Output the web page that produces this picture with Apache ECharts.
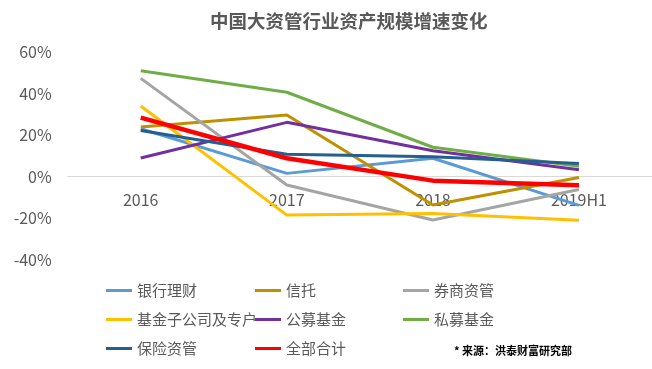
<!DOCTYPE html>
<html>
<head>
<meta charset="utf-8">
<script src="https://cdn.jsdelivr.net/npm/echarts@6/dist/echarts.min.js"></script>
<style>html,body{margin:0;padding:0;background:#fff;}#c{width:652px;height:369px;}</style>
</head>
<body>
<div id="c"></div>
<script>
var categories = ['2016', '2017', '2018', '2019H1'];
var seriesNames = ['银行理财', '信托', '券商资管', '基金子公司及专户', '公募基金', '私募基金', '保险资管', '全部合计'];
var bankWealth = [23.1, 1.6, 8.9, -13.8];
var trust = [24.0, 29.7, -13.6, -0.4];
var brokerage = [47.4, -4.0, -20.9, -6.2];
var fundSubsidiary = [34.1, -18.5, -17.7, -21.0];
var publicFund = [9.0, 26.2, 12.5, 3.4];
var privateFund = [51.1, 40.7, 14.2, 5.0];
var insurance = [22.3, 10.8, 9.6, 6.4];
var total = [28.5, 8.9, -1.9, -4.1];
var yTicks = [-40, -20, 0, 20, 40, 60];

var values = [bankWealth, trust, brokerage, fundSubsidiary, publicFund, privateFund, insurance, total];
var colors = ['#5B9BD5', '#BF9000', '#A5A5A5', '#FFC000', '#7030A0', '#70AD47', '#255E91', '#FF0000'];
var widths = [3, 3, 3, 3, 3, 3, 3, 4.5];
var FONT = '"Noto Sans CJK SC", "Noto Sans", sans-serif';

var GRID_TOP = 52.2, GRID_H = 207.5;
var yMin = yTicks[0], yMax = yTicks[yTicks.length - 1];
var zeroOffset = -GRID_H * (0 - yMin) / (yMax - yMin);

var series = seriesNames.map(function (n, i) {
  return {
    name: n, type: 'line', data: values[i], symbol: 'none', smooth: false,
    color: colors[i],
    lineStyle: { width: widths[i], color: colors[i] },
    z: i === 7 ? 5 : 2
  };
});

function legendCol(left, names) {
  return {
    orient: 'vertical', left: left, top: 276, itemGap: 0,
    itemWidth: 26, itemHeight: 3, itemTextGap: 1, icon: 'rect',
    padding: 0,
    textStyle: { fontSize: 15, lineHeight: 29, color: '#595959', fontFamily: FONT },
    data: names
  };
}

var chart = echarts.init(document.getElementById('c'), null, { renderer: 'canvas' });
chart.setOption({
  animation: false,
  backgroundColor: '#fff',
  textStyle: { fontFamily: FONT },
  title: {
    text: '中国大资管行业资产规模增速变化', left: 205, top: 7,
    textStyle: { fontSize: 18.5, fontWeight: 'bold', color: '#595959', fontFamily: FONT }
  },
  grid: { left: 67.7, top: GRID_TOP, width: 603, height: GRID_H, containLabel: false },
  xAxis: {
    type: 'category', data: categories, boundaryGap: true,
    position: 'bottom', offset: zeroOffset,
    axisLine: { show: true, onZero: false, lineStyle: { color: '#D9D9D9', width: 1 } },
    axisTick: { show: false },
    axisLabel: { color: '#595959', fontSize: 16, margin: 15, fontFamily: FONT },
    splitLine: { show: false }
  },
  yAxis: {
    type: 'value', min: yMin, max: yMax, interval: 20,
    axisLine: { show: false }, axisTick: { show: false }, splitLine: { show: false },
    axisLabel: { color: '#595959', fontSize: 16, margin: 16, fontFamily: FONT, formatter: '{value}%' }
  },
  legend: [
    legendCol(106, ['银行理财', '基金子公司及专户', '保险资管']),
    legendCol(255, ['信托', '公募基金', '全部合计']),
    legendCol(403, ['券商资管', '私募基金'])
  ],
  graphic: [{
    type: 'text', left: 454, top: 345,
    style: { text: '* 来源：洪泰财富研究部', fontSize: 11, fontWeight: 'bold', fill: '#000', fontFamily: FONT }
  }],
  series: series
});
</script>
</body>
</html>
